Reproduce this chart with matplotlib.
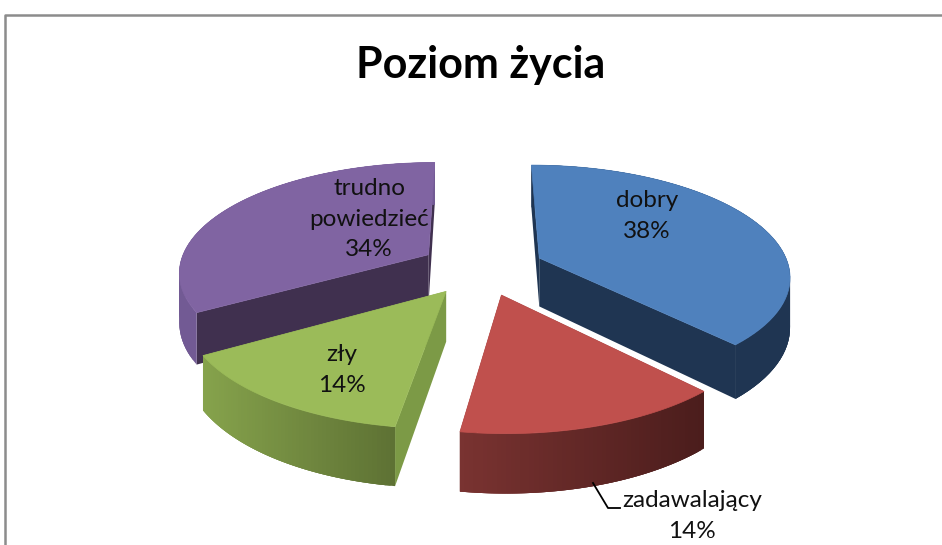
import numpy as np
import matplotlib
matplotlib.use("Agg")
import matplotlib.pyplot as plt
from matplotlib.patches import Polygon

title = "Poziom życia"
categories = ["dobry", "zadawalający", "zły", "trudno\npowiedzieć"]
# unrounded shares estimated from the slice edges, labels show them rounded
values = [38.0, 14.4, 14.1, 33.5]
value_labels = ["38%", "14%", "14%", "34%"]

# colours: top, radial wall, outer wall left / right
top_colors = ["#4F81BD", "#C0504D", "#9BBB59", "#8064A2"]
radial_colors = ["#1F3552", "#4B1D1C", "#7C9A46", "#40304F"]
wall_left = ["#1F3552", "#7A3331", "#86A34C", "#725A94"]
wall_right = ["#1F3552", "#4B1D1C", "#5E7234", "#725A94"]

# label centres
label_x = [647, 692, 342, 369]
label_y = [216, 516, 370, 219]

# perspective of the pie, in pixels
x0, yv = 477, -476
shift_x = 5
R = 250
A = 744
depth = 49
k = 0.147
explode = 0.25


def project(X, Y, bottom=False):
    s = 1 / (1 + k * Y)
    sx = x0 + s * (shift_x + R * X)
    sy = yv + (A + (depth if bottom else 0)) * s
    return np.column_stack([sx, sy])


def mix(c1, c2, t):
    a = np.array(matplotlib.colors.to_rgb(c1))
    b = np.array(matplotlib.colors.to_rgb(c2))
    return a + (b - a) * t


fig = plt.figure(figsize=(9.42, 5.45), dpi=100)
ax = fig.add_axes([0, 0, 1, 1])
ax.set_xlim(0, 942)
ax.set_ylim(545, 0)
ax.axis("off")

fracs = np.array(values) / sum(values) * 2 * np.pi
starts = np.concatenate([[0], np.cumsum(fracs)[:-1]])

# back slices first
draw_order = [3, 0, 2, 1]
for i in draw_order:
    a0, a1 = starts[i], starts[i] + fracs[i]
    mid = (a0 + a1) / 2
    cx, cy = explode * np.sin(mid), explode * np.cos(mid)
    t = np.linspace(a0, a1, 60)
    arc_x, arc_y = cx + np.sin(t), cy + np.cos(t)

    top_arc = project(arc_x, arc_y)
    low_arc = project(arc_x, arc_y, bottom=True)
    apex_top = project(np.array([cx]), np.array([cy]))
    apex_low = project(np.array([cx]), np.array([cy]), bottom=True)
    base_z = 10 * draw_order.index(i)

    # radial walls
    for j in [0, -1]:
        ax.add_patch(Polygon(np.vstack([apex_top, top_arc[j], low_arc[j], apex_low]),
                             fc=radial_colors[i], ec="none", zorder=base_z + 1))

    # outer wall, left to right shading, each strip reaches under the next one
    xs = top_arc[:, 0]
    n = len(t)
    for j in range(n - 1):
        f = (xs[j] - xs.min()) / (xs.max() - xs.min())
        c = mix(wall_left[i], wall_right[i], f)
        e = min(j + 3, n - 1)
        ax.add_patch(Polygon(np.vstack([top_arc[j:e + 1], low_arc[j:e + 1][::-1]]),
                             fc=c, ec="none", zorder=base_z + 2 + j * 1e-4))

    ax.add_patch(Polygon(np.vstack([apex_top, top_arc]), fc=top_colors[i], ec=top_colors[i],
                         lw=0.5, zorder=base_z + 3))

for i in range(len(categories)):
    ax.text(label_x[i], label_y[i], categories[i] + "\n" + value_labels[i], ha="center", va="center",
            family="Lato", fontsize=17.5, color="#111111", linespacing=1.55, zorder=100)

# leader of the outside label
ax.plot([593, 608, 620], [483, 508, 508], color="black", lw=1.3, zorder=100)

ax.text(481, 65, title, ha="center", va="center", family="Lato", fontweight="bold",
        fontsize=31, color="black")

# chart frame
ax.plot([5, 5, 942], [545, 15, 15], color="#8C8C8C", lw=1.8)

fig.savefig("out.png", dpi=100)
